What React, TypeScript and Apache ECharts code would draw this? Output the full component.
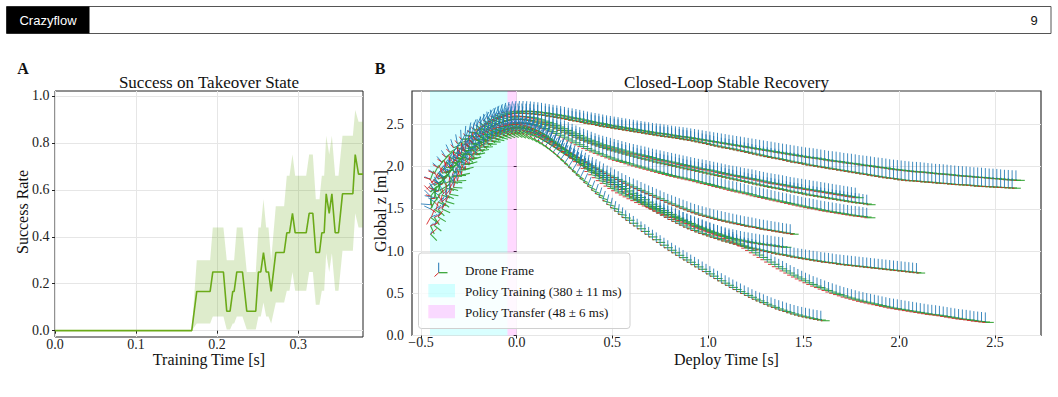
import React, { useEffect, useRef } from 'react';
import * as echarts from 'echarts';

// ---------- Panel A: success rate vs training time ----------
const TRAIN_T = [0, 0.1687, 0.1749, 0.1914, 0.1947, 0.2078, 0.2119, 0.216, 0.2193, 0.221, 0.2243, 0.2313, 0.2366, 0.2477, 0.251, 0.2539, 0.2572, 0.2605, 0.2634, 0.2667, 0.2724, 0.2827, 0.286, 0.2893, 0.293, 0.2963, 0.3099, 0.3136, 0.3181, 0.3218, 0.3263, 0.3292, 0.3321, 0.3346, 0.3383, 0.3416, 0.3457, 0.3498, 0.3547, 0.3675, 0.3704, 0.3745, 0.38];
const TRAIN_MEAN = [0, 0, 0.167, 0.167, 0.25, 0.25, 0.083, 0.083, 0.167, 0.167, 0.25, 0.25, 0.083, 0.083, 0.25, 0.25, 0.333, 0.25, 0.25, 0.167, 0.333, 0.333, 0.417, 0.417, 0.5, 0.417, 0.417, 0.5, 0.5, 0.333, 0.333, 0.417, 0.417, 0.583, 0.5, 0.583, 0.417, 0.417, 0.583, 0.583, 0.75, 0.667, 0.667];
const TRAIN_LO = [0, 0, 0.03, 0.03, 0.06, 0.06, 0.005, 0.005, 0.03, 0.03, 0.06, 0.06, 0.005, 0.005, 0.06, 0.06, 0.12, 0.06, 0.06, 0.03, 0.12, 0.12, 0.17, 0.17, 0.25, 0.17, 0.17, 0.25, 0.25, 0.11, 0.11, 0.17, 0.17, 0.33, 0.25, 0.33, 0.17, 0.17, 0.34, 0.34, 0.5, 0.44, 0.44];
const TRAIN_HI = [0, 0, 0.3, 0.3, 0.44, 0.44, 0.3, 0.3, 0.3, 0.3, 0.44, 0.44, 0.25, 0.25, 0.44, 0.44, 0.56, 0.44, 0.44, 0.3, 0.53, 0.53, 0.66, 0.66, 0.75, 0.66, 0.66, 0.75, 0.75, 0.56, 0.56, 0.66, 0.66, 0.83, 0.75, 0.83, 0.66, 0.66, 0.83, 0.83, 0.94, 0.89, 0.89];
const A_X_TICKS = [0, 0.1, 0.2, 0.3];
const A_Y_TICKS = [0, 0.2, 0.4, 0.6, 0.8, 1.0];

// ---------- Panel B: drone trajectories (sampled every 20 ms) ----------
const TIME = [-0.45, -0.43, -0.41, -0.39, -0.37, -0.35, -0.33, -0.31, -0.29, -0.27, -0.25, -0.23, -0.21, -0.19, -0.17, -0.15, -0.13, -0.11, -0.09, -0.07, -0.05, -0.03, -0.01, 0.01, 0.03, 0.05, 0.07, 0.09, 0.11, 0.13, 0.15, 0.17, 0.19, 0.21, 0.23, 0.25, 0.27, 0.29, 0.31, 0.33, 0.35, 0.37, 0.39, 0.41, 0.43, 0.45, 0.47, 0.49, 0.51, 0.53, 0.55, 0.57, 0.59, 0.61, 0.63, 0.65, 0.67, 0.69, 0.71, 0.73, 0.75, 0.77, 0.79, 0.81, 0.83, 0.85, 0.87, 0.89, 0.91, 0.93, 0.95, 0.97, 0.99, 1.01, 1.03, 1.05, 1.07, 1.09, 1.11, 1.13, 1.15, 1.17, 1.19, 1.21, 1.23, 1.25, 1.27, 1.29, 1.31, 1.33, 1.35, 1.37, 1.39, 1.41, 1.43, 1.45, 1.47, 1.49, 1.51, 1.53, 1.55, 1.57, 1.59, 1.61, 1.63, 1.65, 1.67, 1.69, 1.71, 1.73, 1.75, 1.77, 1.79, 1.81, 1.83, 1.85, 1.87, 1.89, 1.91, 1.93, 1.95, 1.97, 1.99, 2.01, 2.03, 2.05, 2.07, 2.09, 2.11, 2.13, 2.15, 2.17, 2.19, 2.21, 2.23, 2.25, 2.27, 2.29, 2.31, 2.33, 2.35, 2.37, 2.39, 2.41, 2.43, 2.45, 2.47, 2.49, 2.51, 2.53, 2.55, 2.57, 2.59, 2.61, 2.63];

const Z1 = [1.85, 1.92, 1.988, 2.052, 2.112, 2.17, 2.224, 2.275, 2.324, 2.368, 2.41, 2.449, 2.483, 2.516, 2.544, 2.57, 2.593, 2.611, 2.628, 2.641, 2.65, 2.657, 2.66, 2.66, 2.66, 2.658, 2.655, 2.65, 2.645, 2.638, 2.63, 2.623, 2.615, 2.608, 2.6, 2.59, 2.58, 2.573, 2.565, 2.555, 2.545, 2.535, 2.525, 2.518, 2.51, 2.5, 2.49, 2.483, 2.475, 2.468, 2.46, 2.453, 2.445, 2.438, 2.43, 2.423, 2.415, 2.408, 2.4, 2.395, 2.39, 2.383, 2.375, 2.368, 2.36, 2.355, 2.35, 2.343, 2.335, 2.328, 2.32, 2.313, 2.305, 2.298, 2.29, 2.283, 2.275, 2.268, 2.26, 2.253, 2.245, 2.238, 2.23, 2.223, 2.215, 2.208, 2.2, 2.193, 2.185, 2.178, 2.17, 2.163, 2.155, 2.148, 2.14, 2.133, 2.125, 2.118, 2.11, 2.105, 2.1, 2.093, 2.085, 2.078, 2.07, 2.065, 2.06, 2.053, 2.045, 2.04, 2.035, 2.028, 2.02, 2.015, 2.01, 2.003, 1.995, 1.99, 1.985, 1.978, 1.97, 1.965, 1.96, 1.955, 1.95, 1.945, 1.94, 1.938, 1.935, 1.93, 1.925, 1.92, 1.915, 1.913, 1.91, 1.905, 1.9, 1.895, 1.89, 1.888, 1.885, 1.88, 1.875, 1.873, 1.87, 1.865, 1.86, 1.858, 1.855, 1.85, 1.845, 1.843, 1.84, 1.838];
const Z2 = [1.78, 1.854, 1.925, 1.992, 2.055, 2.116, 2.173, 2.226, 2.277, 2.324, 2.367, 2.408, 2.445, 2.479, 2.508, 2.536, 2.559, 2.579, 2.596, 2.61, 2.62, 2.627, 2.63, 2.63, 2.63, 2.628, 2.625, 2.62, 2.615, 2.608, 2.6, 2.593, 2.585, 2.578, 2.57, 2.56, 2.55, 2.543, 2.535, 2.525, 2.515, 2.508, 2.5, 2.49, 2.48, 2.473, 2.465, 2.458, 2.45, 2.443, 2.435, 2.428, 2.42, 2.413, 2.405, 2.398, 2.39, 2.383, 2.375, 2.368, 2.36, 2.355, 2.35, 2.343, 2.335, 2.328, 2.32, 2.313, 2.305, 2.295, 2.285, 2.275, 2.265, 2.255, 2.245, 2.235, 2.225, 2.218, 2.21, 2.2, 2.19, 2.18, 2.17, 2.16, 2.15, 2.14, 2.13, 2.12, 2.11, 2.103, 2.095, 2.085, 2.075, 2.065, 2.055, 2.048, 2.04, 2.03, 2.02, 2.013, 2.005, 1.998, 1.99, 1.983, 1.975, 1.968, 1.96, 1.953, 1.945, 1.938, 1.93, 1.923, 1.915, 1.908, 1.9, 1.893, 1.885, 1.878, 1.87, 1.865, 1.86, 1.853, 1.845, 1.84, 1.835, 1.833, 1.83, 1.825, 1.82, 1.818, 1.815, 1.81, 1.805, 1.803, 1.8, 1.795, 1.79, 1.788, 1.785, 1.783, 1.78, 1.775, 1.77, 1.768, 1.765, 1.763, 1.76, 1.758, 1.755, 1.753, 1.75, 1.748, 1.745];
const Z3 = [1.7, 1.778, 1.853, 1.924, 1.992, 2.056, 2.116, 2.173, 2.227, 2.276, 2.322, 2.365, 2.404, 2.44, 2.471, 2.5, 2.525, 2.546, 2.564, 2.578, 2.589, 2.596, 2.6, 2.6, 2.595, 2.588, 2.58, 2.568, 2.555, 2.54, 2.525, 2.508, 2.49, 2.47, 2.45, 2.43, 2.41, 2.39, 2.37, 2.35, 2.33, 2.313, 2.295, 2.278, 2.26, 2.248, 2.235, 2.223, 2.21, 2.198, 2.185, 2.173, 2.16, 2.15, 2.14, 2.13, 2.12, 2.108, 2.095, 2.085, 2.075, 2.065, 2.055, 2.045, 2.035, 2.025, 2.015, 2.005, 1.995, 1.985, 1.975, 1.968, 1.96, 1.95, 1.94, 1.93, 1.92, 1.91, 1.9, 1.893, 1.885, 1.875, 1.865, 1.858, 1.85, 1.84, 1.83, 1.82, 1.81, 1.803, 1.795, 1.788, 1.78, 1.77, 1.76, 1.753, 1.745, 1.738, 1.73, 1.723, 1.715, 1.708, 1.7, 1.693, 1.685, 1.678, 1.67, 1.663, 1.655, 1.648, 1.64, 1.633];
const Z4 = [1.62, 1.702, 1.78, 1.854, 1.925, 1.991, 2.054, 2.114, 2.17, 2.222, 2.27, 2.315, 2.355, 2.393, 2.426, 2.456, 2.482, 2.504, 2.522, 2.537, 2.549, 2.556, 2.56, 2.56, 2.555, 2.548, 2.54, 2.528, 2.515, 2.5, 2.485, 2.468, 2.45, 2.43, 2.41, 2.39, 2.37, 2.35, 2.33, 2.313, 2.295, 2.278, 2.26, 2.245, 2.23, 2.215, 2.2, 2.188, 2.175, 2.163, 2.15, 2.138, 2.125, 2.113, 2.1, 2.09, 2.08, 2.068, 2.055, 2.045, 2.035, 2.025, 2.015, 2.005, 1.995, 1.985, 1.975, 1.965, 1.955, 1.945, 1.935, 1.925, 1.915, 1.905, 1.895, 1.885, 1.875, 1.865, 1.855, 1.845, 1.835, 1.825, 1.815, 1.805, 1.795, 1.785, 1.775, 1.765, 1.755, 1.748, 1.74, 1.73, 1.72, 1.71, 1.7, 1.693, 1.685, 1.675, 1.665, 1.658, 1.65, 1.643, 1.635, 1.628, 1.62, 1.613, 1.605, 1.598, 1.59, 1.583, 1.575, 1.57, 1.565, 1.558, 1.55];
const Z5 = [1.55, 1.634, 1.715, 1.792, 1.864, 1.933, 1.998, 2.059, 2.117, 2.171, 2.22, 2.267, 2.309, 2.347, 2.381, 2.412, 2.439, 2.462, 2.481, 2.497, 2.508, 2.516, 2.52, 2.52, 2.515, 2.508, 2.5, 2.485, 2.47, 2.453, 2.435, 2.415, 2.395, 2.373, 2.35, 2.328, 2.305, 2.283, 2.26, 2.238, 2.215, 2.195, 2.175, 2.158, 2.14, 2.123, 2.105, 2.09, 2.075, 2.063, 2.05, 2.035, 2.02, 2.008, 1.995, 1.983, 1.97, 1.958, 1.945, 1.933, 1.92, 1.908, 1.895, 1.885, 1.875, 1.865, 1.855, 1.845, 1.835, 1.823, 1.81, 1.8, 1.79, 1.778, 1.765, 1.755, 1.745, 1.733, 1.72, 1.71, 1.7, 1.69, 1.68, 1.668, 1.655, 1.645, 1.635, 1.625, 1.615, 1.605, 1.595, 1.585, 1.575, 1.565, 1.555, 1.545, 1.535, 1.525, 1.515, 1.508, 1.5, 1.49, 1.48, 1.473, 1.465, 1.458, 1.45, 1.443, 1.435, 1.428, 1.42, 1.415, 1.41, 1.403, 1.395];
const Z6 = [1.4, 1.493, 1.582, 1.666, 1.747, 1.823, 1.894, 1.962, 2.026, 2.085, 2.139, 2.191, 2.237, 2.28, 2.317, 2.351, 2.381, 2.406, 2.427, 2.444, 2.457, 2.466, 2.47, 2.47, 2.465, 2.455, 2.44, 2.42, 2.4, 2.375, 2.35, 2.32, 2.29, 2.26, 2.23, 2.2, 2.17, 2.14, 2.11, 2.08, 2.05, 2.023, 1.995, 1.97, 1.945, 1.92, 1.895, 1.873, 1.85, 1.828, 1.805, 1.783, 1.76, 1.74, 1.72, 1.7, 1.68, 1.66, 1.64, 1.62, 1.6, 1.58, 1.56, 1.543, 1.525, 1.508, 1.49, 1.473, 1.455, 1.44, 1.425, 1.413, 1.4, 1.388, 1.375, 1.365, 1.355, 1.345, 1.335, 1.325, 1.315, 1.305, 1.295, 1.288, 1.28, 1.27, 1.26, 1.253, 1.245, 1.238, 1.23, 1.223, 1.215, 1.208, 1.2];
const Z7 = [1.5, 1.583, 1.662, 1.737, 1.808, 1.875, 1.939, 1.999, 2.056, 2.108, 2.156, 2.202, 2.243, 2.281, 2.314, 2.345, 2.371, 2.393, 2.412, 2.427, 2.439, 2.446, 2.45, 2.45, 2.445, 2.435, 2.42, 2.4, 2.375, 2.348, 2.32, 2.29, 2.26, 2.228, 2.195, 2.163, 2.13, 2.1, 2.07, 2.04, 2.01, 1.983, 1.955, 1.928, 1.9, 1.873, 1.845, 1.818, 1.79, 1.765, 1.74, 1.713, 1.685, 1.66, 1.635, 1.608, 1.58, 1.555, 1.53, 1.505, 1.48, 1.458, 1.435, 1.413, 1.39, 1.368, 1.345, 1.323, 1.3, 1.283, 1.265, 1.248, 1.23, 1.215, 1.2, 1.188, 1.175, 1.163, 1.15, 1.14, 1.13, 1.12, 1.11, 1.103, 1.095, 1.088, 1.08, 1.075, 1.07, 1.063, 1.055, 1.05, 1.045];
const Z8 = [1.3, 1.398, 1.492, 1.581, 1.666, 1.746, 1.822, 1.893, 1.961, 2.023, 2.081, 2.135, 2.184, 2.229, 2.268, 2.305, 2.336, 2.362, 2.385, 2.403, 2.416, 2.425, 2.43, 2.43, 2.425, 2.415, 2.4, 2.38, 2.355, 2.328, 2.3, 2.27, 2.24, 2.208, 2.175, 2.145, 2.115, 2.085, 2.055, 2.023, 1.99, 1.96, 1.93, 1.903, 1.875, 1.845, 1.815, 1.788, 1.76, 1.73, 1.7, 1.67, 1.64, 1.613, 1.585, 1.558, 1.53, 1.503, 1.475, 1.45, 1.425, 1.4, 1.375, 1.353, 1.33, 1.308, 1.285, 1.265, 1.245, 1.228, 1.21, 1.195, 1.18, 1.165, 1.15, 1.135, 1.12, 1.108, 1.095, 1.083, 1.07, 1.058, 1.045, 1.035, 1.025, 1.015, 1.005, 0.995, 0.985, 0.975, 0.965, 0.958, 0.95, 0.94, 0.93, 0.923, 0.915, 0.908, 0.9, 0.893, 0.885, 0.878, 0.87, 0.865, 0.86, 0.853, 0.845, 0.84, 0.835, 0.83, 0.825, 0.82, 0.815, 0.81, 0.805, 0.8, 0.795, 0.79, 0.785, 0.78, 0.775, 0.77, 0.765, 0.76, 0.755, 0.75, 0.745, 0.74];
const Z9 = [1.65, 1.724, 1.795, 1.862, 1.925, 1.986, 2.043, 2.096, 2.147, 2.194, 2.237, 2.278, 2.315, 2.349, 2.378, 2.406, 2.429, 2.449, 2.466, 2.48, 2.49, 2.497, 2.5, 2.5, 2.495, 2.485, 2.47, 2.45, 2.425, 2.397, 2.365, 2.33, 2.295, 2.258, 2.22, 2.18, 2.14, 2.1, 2.06, 2.02, 1.98, 1.943, 1.905, 1.87, 1.835, 1.803, 1.77, 1.743, 1.715, 1.69, 1.665, 1.643, 1.62, 1.598, 1.575, 1.555, 1.535, 1.515, 1.495, 1.475, 1.455, 1.435, 1.415, 1.398, 1.38, 1.363, 1.345, 1.328, 1.31, 1.293, 1.275, 1.258, 1.24, 1.223, 1.205, 1.188, 1.17, 1.15, 1.13, 1.108, 1.085, 1.06, 1.035, 1.008, 0.98, 0.953, 0.925, 0.898, 0.87, 0.843, 0.815, 0.79, 0.765, 0.74, 0.715, 0.693, 0.67, 0.648, 0.625, 0.605, 0.585, 0.568, 0.55, 0.533, 0.515, 0.5, 0.485, 0.47, 0.455, 0.443, 0.43, 0.418, 0.405, 0.395, 0.385, 0.375, 0.365, 0.355, 0.345, 0.335, 0.325, 0.318, 0.31, 0.303, 0.295, 0.288, 0.28, 0.273, 0.265, 0.258, 0.25, 0.245, 0.24, 0.233, 0.225, 0.218, 0.21, 0.203, 0.195, 0.19, 0.185, 0.178, 0.17, 0.165, 0.16, 0.155];
const Z10 = [1.2, 1.304, 1.404, 1.499, 1.589, 1.674, 1.754, 1.83, 1.902, 1.968, 2.029, 2.087, 2.138, 2.186, 2.228, 2.267, 2.3, 2.328, 2.352, 2.371, 2.386, 2.395, 2.4, 2.397, 2.39, 2.377, 2.36, 2.337, 2.31, 2.28, 2.245, 2.208, 2.17, 2.128, 2.085, 2.04, 1.995, 1.95, 1.905, 1.86, 1.815, 1.77, 1.725, 1.683, 1.64, 1.598, 1.555, 1.515, 1.475, 1.438, 1.4, 1.365, 1.33, 1.298, 1.265, 1.233, 1.2, 1.168, 1.135, 1.103, 1.07, 1.04, 1.01, 0.98, 0.95, 0.923, 0.895, 0.868, 0.84, 0.813, 0.785, 0.758, 0.73, 0.703, 0.675, 0.648, 0.62, 0.595, 0.57, 0.545, 0.52, 0.498, 0.475, 0.453, 0.43, 0.41, 0.39, 0.37, 0.35, 0.333, 0.315, 0.3, 0.285, 0.27, 0.255, 0.243, 0.23, 0.22, 0.21, 0.2, 0.19, 0.183, 0.175];

// body attitude (deg) over the first samples of each flight; level afterwards
const PITCH1 = [-70, -62, -54, -46, -38, -30, -22, -14, -6, 2, 10, 18, 25, 28, 28, 26, 23, 20, 17, 14, 11, 9, 7, 5, 4, 3, 2, 1, 1, 0];
const ROLL1 = [40, 38, 35, 32, 29, 26, 23, 20, 17, 14, 12, 10, 8, 6, 5, 4, 3, 2, 2, 1, 1];
const PITCH2 = [55, 50, 45, 40, 35, 30, 26, 22, 18, 14, 10, 6, 2, -2, -5, -8, -10, -11, -11, -10, -9, -7, -5, -4, -3, -2, -1, -1];
const ROLL2 = [-50, -46, -42, -38, -34, -30, -27, -24, -21, -18, -15, -12, -10, -8, -6, -5, -4, -3, -2, -2, -1, -1];
const PITCH3 = [-40, -30, -20, -10, 0, 10, 20, 28, 34, 38, 40, 40, 38, 35, 31, 27, 23, 19, 15, 12, 9, 7, 5, 4, 3, 2, 1, 1];
const ROLL3 = [70, 66, 62, 58, 54, 50, 46, 42, 38, 34, 30, 26, 22, 18, 15, 12, 9, 7, 5, 4, 3, 2, 1, 1];
const PITCH4 = [80, 72, 64, 56, 48, 40, 32, 24, 16, 8, 0, -8, -14, -18, -20, -20, -18, -15, -12, -9, -7, -5, -3, -2, -1];
const ROLL4 = [20, 24, 28, 32, 35, 36, 35, 33, 30, 27, 24, 21, 18, 15, 12, 10, 8, 6, 4, 3, 2, 1, 1];
const PITCH5 = [-85, -78, -71, -64, -57, -50, -44, -38, -32, -26, -20, -15, -10, -6, -2, 1, 3, 4, 4, 4, 3, 3, 2, 2, 1, 1];
const ROLL5 = [-30, -22, -14, -6, 2, 10, 18, 24, 28, 30, 30, 28, 25, 22, 19, 16, 13, 10, 8, 6, 4, 3, 2, 1, 1];
const PITCH6 = [35, 30, 25, 20, 15, 10, 5, 0, -5, -10, -14, -17, -19, -20, -19, -17, -14, -10, -6, -2, 2, 6, 10, 14, 17, 20, 22, 24, 25, 26, 26, 26, 25, 24, 23, 22, 20, 18, 16, 14, 12, 10, 8, 7, 6, 5, 4, 3, 2, 1];
const ROLL6 = [-75, -70, -65, -60, -55, -50, -45, -40, -35, -30, -26, -22, -18, -15, -12, -10, -8, -6, -4, -3, -2, -1];
const PITCH7 = [-60, -50, -40, -30, -20, -10, 0, 10, 20, 28, 34, 38, 40, 40, 38, 36, 34, 32, 30, 29, 28, 27, 26, 25, 24, 23, 22, 21, 20, 19, 18, 17, 16, 15, 14, 13, 12, 11, 10, 9, 8, 7, 6, 5, 4, 3, 2, 1, 1];
const ROLL7 = [-55, -50, -45, -40, -35, -30, -26, -22, -18, -14, -10, -7, -4, -2];
const PITCH8 = [65, 55, 45, 35, 25, 15, 6, -2, -8, -12, -14, -14, -12, -8, -4, 0, 4, 8, 12, 16, 20, 23, 26, 28, 30, 31, 32, 32, 32, 31, 30, 29, 28, 26, 24, 22, 20, 18, 16, 14, 12, 10, 8, 6, 5, 4, 3, 2, 1];
const ROLL8 = [55, 52, 49, 46, 43, 40, 37, 34, 31, 28, 25, 22, 19, 16, 13, 10, 8, 6, 4, 2, 1];
const PITCH9 = [-50, -44, -38, -32, -26, -20, -14, -8, -2, 4, 10, 15, 19, 22, 24, 26, 27, 28, 29, 30, 30, 30, 30, 30, 29, 28, 27, 26, 25, 24, 23, 22, 21, 20, 19, 18, 17, 16, 15, 14, 13, 12, 11, 10, 9, 8, 7, 6, 5, 4, 3];
const ROLL9 = [15, 20, 25, 30, 34, 36, 36, 34, 31, 28, 24, 20, 16, 12, 9, 6, 4, 2, 1];
const PITCH10 = [45, 38, 31, 24, 17, 10, 3, -4, -10, -14, -16, -16, -14, -10, -5, 0, 5, 10, 15, 20, 24, 28, 31, 34, 36, 38, 39, 40, 40, 40, 39, 38, 37, 36, 35, 34, 33, 31, 29, 27, 25, 23, 21, 19, 17, 15, 13, 11, 9, 7, 5];
const ROLL10 = [65, 60, 55, 50, 45, 40, 35, 30, 26, 22, 18, 15, 12, 9, 7, 5, 3, 2, 1];
const YAW = [10, -15, 20, -10, 15, -20, 10, -15, 20, -10];

const TRAINING_BAND = [-0.453, -0.048];
const TRANSFER_BAND = [-0.048, 0.0];
const B_X_TICKS = [-0.5, 0, 0.5, 1.0, 1.5, 2.0, 2.5];
const B_Y_TICKS = [0, 0.5, 1.0, 1.5, 2.0, 2.5];

const SERIF = "'Liberation Serif', 'Times New Roman', serif";
const SANS = "'Liberation Sans', Arial, sans-serif";
const INK = '#222222';
const GRIDC = '#e6e6e6';
const LINE_GREEN = '#6baa19';
const BLUE = '#1f77b4';
const GREEN = '#2ca02c';
const RED = '#d62728';

const fmt = (v: number) => (v < 0 ? '\u2212' : '') + Math.abs(v).toFixed(1);

function axisX(gridIndex: number, min: number, max: number, ticks: number[]) {
  return {
    type: 'value', gridIndex, min, max,
    axisLine: { show: false },
    axisTick: { show: true, length: 3, inside: false, customValues: ticks, lineStyle: { color: INK, width: 1 } },
    axisLabel: { customValues: ticks, formatter: fmt, fontFamily: SERIF, fontSize: 14, color: INK, margin: 0 },
    splitLine: { show: true, lineStyle: { color: GRIDC, width: 1 } },
  };
}
function axisY(gridIndex: number, min: number, max: number, ticks: number[], margin: number) {
  return {
    type: 'value', gridIndex, min, max,
    axisLine: { show: false },
    axisTick: { show: true, length: 3, inside: false, customValues: ticks, lineStyle: { color: INK, width: 1 } },
    axisLabel: { customValues: ticks, formatter: fmt, fontFamily: SERIF, fontSize: 14, color: INK, margin },
    splitLine: { show: true, lineStyle: { color: GRIDC, width: 1 } },
  };
}

function triad(api: any, yawDeg: number) {
  const p = api.coord([api.value(0), api.value(1)]);
  const th = (api.value(2) * Math.PI) / 180;
  const ph = (api.value(3) * Math.PI) / 180;
  const ps = (yawDeg * Math.PI) / 180;
  const ct = Math.cos(th), st = Math.sin(th), cp = Math.cos(ph), sp = Math.sin(ph), cy = Math.cos(ps), sy = Math.sin(ps);
  const ex = [cy * ct, -st];
  const ey = [cy * st * sp - sy * cp, ct * sp];
  const ez = [cy * st * cp + sy * sp, ct * cp];
  const seg = (v: number[], L: number, color: string, w: number, o: number) => ({
    type: 'line',
    shape: { x1: p[0], y1: p[1], x2: p[0] + v[0] * L, y2: p[1] - v[1] * L },
    style: { stroke: color, lineWidth: w, opacity: o },
    silent: true,
  });
  return { type: 'group', children: [seg(ez, 10, BLUE, 1, 0.85), seg(ex, 9, GREEN, 1.1, 0.9), seg(ey, 9, RED, 1, 0.9)] };
}

export default function App() {
  const ref = useRef<HTMLDivElement>(null);
  useEffect(() => {
    if (!ref.current) return;
    const chart = echarts.init(ref.current, null, { renderer: 'svg' });
    const trajZ = [Z1, Z2, Z3, Z4, Z5, Z6, Z7, Z8, Z9, Z10];
    const trajP = [PITCH1, PITCH2, PITCH3, PITCH4, PITCH5, PITCH6, PITCH7, PITCH8, PITCH9, PITCH10];
    const trajR = [ROLL1, ROLL2, ROLL3, ROLL4, ROLL5, ROLL6, ROLL7, ROLL8, ROLL9, ROLL10];

    const trajSeries = trajZ.map((zs, i) => ({
      type: 'custom', xAxisIndex: 1, yAxisIndex: 1, z: 3, silent: true,
      dimensions: ['t', 'z', 'pitch', 'roll'],
      encode: { x: 0, y: 1 },
      data: zs.map((z, k) => [TIME[k], z, trajP[i][k] ?? 0, trajR[i][k] ?? 0]),
      renderItem: (_params: any, api: any) => triad(api, YAW[i]),
    }));

    const bands = [
      [TRAINING_BAND[0], TRAINING_BAND[1], 0, 2.897, 0],
      [TRANSFER_BAND[0], TRANSFER_BAND[1], 0, 2.897, 1],
    ];

    const option: any = {
      animation: false,
      backgroundColor: '#ffffff',
      grid: [
        { left: 55, top: 91, width: 308, height: 246, show: true, borderColor: INK, borderWidth: 1, backgroundColor: 'transparent', containLabel: false, outerBoundsMode: 'none' },
        { left: 412, top: 91, width: 629, height: 244.5, show: true, borderColor: '#333333', borderWidth: 1.2, backgroundColor: 'transparent', containLabel: false, outerBoundsMode: 'none' },
      ],
      xAxis: [axisX(0, 0, 0.38, A_X_TICKS), axisX(1, -0.547, 2.741, B_X_TICKS)],
      yAxis: [axisY(0, -0.027, 1.021, A_Y_TICKS, 5.5), axisY(1, 0, 2.897, B_Y_TICKS, 8)],
      series: [
        {
          type: 'custom', xAxisIndex: 0, yAxisIndex: 0, z: 2, silent: true,
          encode: { x: 0, y: [1, 2] },
          data: TRAIN_T.map((t, i) => [t, TRAIN_LO[i], TRAIN_HI[i]]),
          renderItem: (params: any, api: any) => {
            if (params.dataIndex !== 0) return { type: 'group', children: [] };
            const pts: number[][] = [];
            for (let i = 0; i < TRAIN_T.length; i++) pts.push(api.coord([TRAIN_T[i], TRAIN_HI[i]]));
            for (let i = TRAIN_T.length - 1; i >= 0; i--) pts.push(api.coord([TRAIN_T[i], TRAIN_LO[i]]));
            return { type: 'polygon', shape: { points: pts }, style: { fill: LINE_GREEN, opacity: 0.22 } };
          },
        },
        {
          type: 'line', xAxisIndex: 0, yAxisIndex: 0, z: 3, silent: true,
          data: TRAIN_T.map((t, i) => [t, TRAIN_MEAN[i]]),
          symbol: 'none', lineStyle: { color: LINE_GREEN, width: 1.6 },
        },
        {
          type: 'custom', xAxisIndex: 1, yAxisIndex: 1, z: 1, silent: true,
          encode: { x: [0, 1], y: [2, 3] },
          data: bands,
          renderItem: (_params: any, api: any) => {
            const a = api.coord([api.value(0), api.value(3)]);
            const b = api.coord([api.value(1), api.value(2)]);
            const pink = api.value(4) === 1;
            return {
              type: 'rect',
              shape: { x: a[0], y: a[1], width: b[0] - a[0], height: b[1] - a[1] },
              style: { fill: pink ? 'rgba(255,0,255,0.15)' : 'rgba(0,255,255,0.15)' },
            };
          },
        },
        ...trajSeries,
      ],
      graphic: [
        { type: 'rect', z: 50, shape: { x: 6.5, y: 6.5, width: 1044.5, height: 27 }, style: { fill: '#ffffff', stroke: '#555555', lineWidth: 1 } },
        { type: 'rect', z: 51, shape: { x: 6.5, y: 6.5, width: 83, height: 27 }, style: { fill: '#000000' } },
        { type: 'text', z: 52, x: 48, y: 20.5, style: { text: 'Crazyflow', fill: '#ffffff', fontFamily: SANS, fontSize: 13, align: 'center', verticalAlign: 'middle' } },
        { type: 'text', z: 52, x: 1034, y: 20.5, style: { text: '9', fill: '#111111', fontFamily: SANS, fontSize: 13, align: 'center', verticalAlign: 'middle' } },
        { type: 'text', z: 52, x: 23, y: 68, style: { text: 'A', fill: '#111111', fontFamily: SERIF, fontSize: 16, fontWeight: 'bold', align: 'center', verticalAlign: 'middle' } },
        { type: 'text', z: 52, x: 380, y: 68, style: { text: 'B', fill: '#111111', fontFamily: SERIF, fontSize: 16, fontWeight: 'bold', align: 'center', verticalAlign: 'middle' } },
        { type: 'text', z: 52, x: 209, y: 82, style: { text: 'Success on Takeover State', fill: '#111111', fontFamily: SERIF, fontSize: 17, align: 'center', verticalAlign: 'middle' } },
        { type: 'text', z: 52, x: 726.5, y: 82, style: { text: 'Closed-Loop Stable Recovery', fill: '#111111', fontFamily: SERIF, fontSize: 17, align: 'center', verticalAlign: 'middle' } },
        { type: 'text', z: 52, x: 209, y: 359, style: { text: 'Training Time [s]', fill: '#111111', fontFamily: SERIF, fontSize: 16, align: 'center', verticalAlign: 'middle' } },
        { type: 'text', z: 52, x: 726.5, y: 359, style: { text: 'Deploy Time [s]', fill: '#111111', fontFamily: SERIF, fontSize: 16, align: 'center', verticalAlign: 'middle' } },
        { type: 'text', z: 52, x: 22.5, y: 212, rotation: Math.PI / 2, style: { text: 'Success Rate', fill: '#111111', fontFamily: SERIF, fontSize: 16, align: 'center', verticalAlign: 'middle' } },
        { type: 'text', z: 52, x: 380, y: 211, rotation: Math.PI / 2, style: { text: 'Global z [m]', fill: '#111111', fontFamily: SERIF, fontSize: 16, align: 'center', verticalAlign: 'middle' } },
        {
          type: 'group', z: 100,
          children: [
            { type: 'rect', z: 100, shape: { x: 418.5, y: 253, width: 211.5, height: 75.5, r: 3 }, style: { fill: 'rgba(255,255,255,0.8)', stroke: '#d0d0d0', lineWidth: 1 } },
            { type: 'line', z: 101, shape: { x1: 438.7, y1: 272.7, x2: 438.7, y2: 262.7 }, style: { stroke: BLUE, lineWidth: 1 } },
            { type: 'line', z: 101, shape: { x1: 438.7, y1: 272.7, x2: 447.5, y2: 272.7 }, style: { stroke: GREEN, lineWidth: 1.2 } },
            { type: 'line', z: 101, shape: { x1: 438.7, y1: 272.7, x2: 434.5, y2: 276.5 }, style: { stroke: RED, lineWidth: 1 } },
            { type: 'rect', z: 101, shape: { x: 428.3, y: 284, width: 26.7, height: 13.3 }, style: { fill: 'rgba(0,255,255,0.16)' } },
            { type: 'rect', z: 101, shape: { x: 428.3, y: 305, width: 26.7, height: 13.3 }, style: { fill: 'rgba(255,0,255,0.15)' } },
            { type: 'text', z: 101, x: 465, y: 270, style: { text: 'Drone Frame', fill: '#111111', fontFamily: SERIF, fontSize: 13, verticalAlign: 'middle' } },
            { type: 'text', z: 101, x: 465, y: 291, style: { text: 'Policy Training (380 \u00b1 11 ms)', fill: '#111111', fontFamily: SERIF, fontSize: 13, verticalAlign: 'middle' } },
            { type: 'text', z: 101, x: 465, y: 312, style: { text: 'Policy Transfer (48 \u00b1 6 ms)', fill: '#111111', fontFamily: SERIF, fontSize: 13, verticalAlign: 'middle' } },
          ],
        },
      ],
    };
    chart.setOption(option);
    return () => chart.dispose();
  }, []);
  return <div ref={ref} style={{ position: 'absolute', left: 0, top: 0, width: 1058, height: 397, background: '#fff' }} />;
}
